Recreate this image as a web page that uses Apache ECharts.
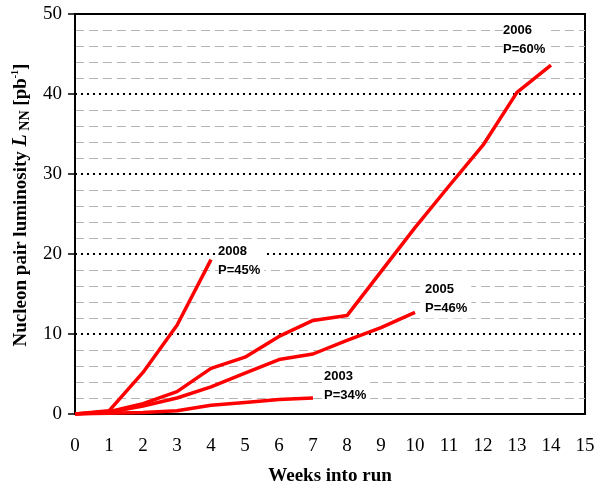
<!DOCTYPE html>
<html><head><meta charset="utf-8">
<script src="https://cdn.jsdelivr.net/npm/echarts@6/dist/echarts.min.js"></script>
<style>html,body{margin:0;padding:0;background:#fff}#c{width:605px;height:485px}</style>
</head><body><div id="c"></div>
<script>
const weeks2008 = [0, 1, 2, 3, 4];
const lumi2008 = [0, 0.4, 5.2, 11.1, 19.3];
const weeks2006 = [0, 1, 2, 3, 4, 5, 6, 7, 8, 9, 10, 11, 12, 13, 14];
const lumi2006 = [0, 0.3, 1.3, 2.8, 5.7, 7.1, 9.7, 11.7, 12.3, 17.8, 23.3, 28.5, 33.6, 40.2, 43.6];
const weeks2005 = [0, 1, 2, 3, 4, 5, 6, 7, 8, 9, 10];
const lumi2005 = [0, 0.2, 1.0, 2.0, 3.4, 5.1, 6.8, 7.5, 9.2, 10.8, 12.7];
const weeks2003 = [0, 1, 2, 3, 4, 5, 6, 7];
const lumi2003 = [0, 0.1, 0.2, 0.4, 1.1, 1.45, 1.8, 2.0];
const seriesNames = ['2008', '2006', '2005', '2003'];
const polarizations = ['P=45%', 'P=60%', 'P=46%', 'P=34%'];
const xTicks = [0, 15, 1];
const yTicks = [0, 50, 10];

const weeksAll = [weeks2008, weeks2006, weeks2005, weeks2003];
const lumiAll = [lumi2008, lumi2006, lumi2005, lumi2003];
const labelOffsets = [[7, -18], [-48, -44], [10, -32], [11, -31]];

const chart = echarts.init(document.getElementById('c'));
const series = seriesNames.map((name, i) => {
  const w = weeksAll[i], v = lumiAll[i];
  const last = w.length - 1;
  return {
    name, type: 'line', showSymbol: false, symbol: 'none',
    data: w.map((x, k) => [x, v[k]]),
    lineStyle: { color: '#ff0000', width: 3.5 },
    z: 5,
    markPoint: {
      symbol: 'circle', symbolSize: 0, silent: true,
      data: [{ coord: [w[last], v[last]] }],
      label: {
        show: true, position: labelOffsets[i],
        formatter: name + '\n' + polarizations[i],
        fontFamily: 'Liberation Sans, Arial', fontWeight: 'bold', fontSize: 13,
        lineHeight: 19, color: '#000', backgroundColor: '#fff', padding: [0, 4, 0, 0]
      }
    }
  };
});

chart.setOption({
  animation: false,
  grid: { left: 75, right: 20, top: 14, bottom: 71, show: true, borderColor: '#000', borderWidth: 2, backgroundColor: 'transparent', containLabel: false, outerBoundsMode: 'none' },
  xAxis: {
    type: 'value', min: xTicks[0], max: xTicks[1], interval: xTicks[2],
    name: 'Weeks into run', nameLocation: 'middle', nameGap: 53,
    nameTextStyle: { fontFamily: 'Liberation Serif, Times New Roman', fontWeight: 'bold', fontSize: 19, color: '#000' },
    axisLine: { lineStyle: { color: '#000', width: 2 } },
    axisTick: { show: false },
    axisLabel: { fontFamily: 'Liberation Serif, Times New Roman', fontSize: 19, color: '#000', margin: 23 },
    splitLine: { show: false }
  },
  yAxis: {
    type: 'value', min: yTicks[0], max: yTicks[1], interval: yTicks[2],
    name: '{b|Nucleon pair luminosity }{i|L}{n| NN}{b| [pb}{s|-1}{b|]}',
    nameLocation: 'middle', nameGap: 43,
    nameTextStyle: {
      color: '#000', padding: [0, 0, 0, 18],
      rich: {
        b: { fontFamily: 'Liberation Serif, Times New Roman', fontWeight: 'bold', fontSize: 19, color: '#000', lineHeight: 22 },
        i: { fontFamily: 'Liberation Serif, Times New Roman', fontWeight: 'bold', fontStyle: 'italic', fontSize: 20, color: '#000', lineHeight: 22 },
        n: { fontFamily: 'Liberation Serif, Times New Roman', fontWeight: 'bold', fontSize: 14, color: '#000', lineHeight: 22, verticalAlign: 'bottom' },
        s: { fontFamily: 'Liberation Serif, Times New Roman', fontWeight: 'bold', fontSize: 10, color: '#000', lineHeight: 22, verticalAlign: 'top' }
      }
    },
    axisLine: { show: true, lineStyle: { color: '#000', width: 2 } },
    axisTick: { show: true, inside: false, length: 7, lineStyle: { color: '#000', width: 1.5 } },
    axisLabel: { fontFamily: 'Liberation Serif, Times New Roman', fontSize: 19, color: '#000', margin: 13 },
    splitLine: { show: true, lineStyle: { color: '#000', width: 2, type: [2, 4] } },
    minorTick: { show: false, splitNumber: 5 },
    minorSplitLine: { show: true, lineStyle: { color: '#b4b4b4', width: 1, type: [9, 5] } }
  },
  series
});
</script></body></html>
